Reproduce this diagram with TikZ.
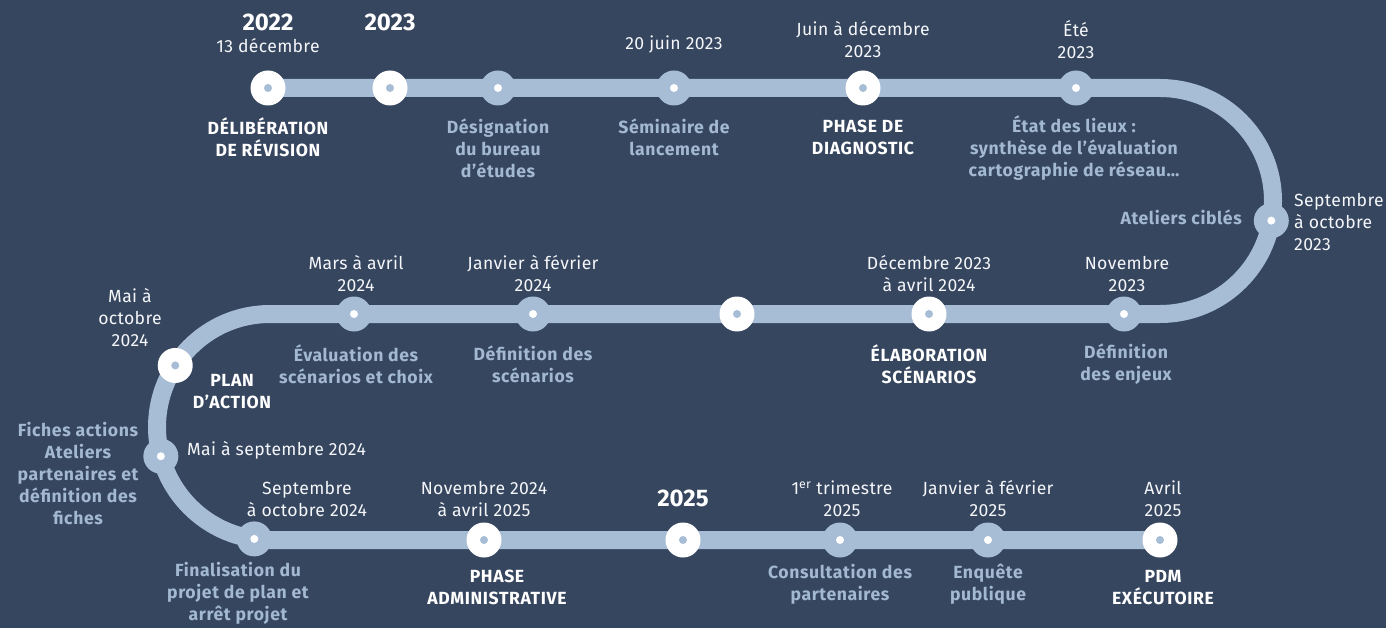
\documentclass[tikz,border=0pt]{standalone}
\usepackage{fontspec}
\setmainfont{Fira Sans}[LetterSpace=2]
\usetikzlibrary{calc}
\definecolor{bg}{HTML}{36465F}
\definecolor{trk}{HTML}{A7BDD6}
\definecolor{lbl}{HTML}{A3B8D1}
\definecolor{wtxt}{HTML}{F4F6F9}
\pgfdeclarelayer{back}
\pgfsetlayers{back,main}
\tikzset{
  mnode/.style={circle,inner sep=0pt,minimum size=35pt},
  major/.style={mnode,fill=white,path picture={\fill[trk] (path picture bounding box.center) circle (4pt);}},
  minor/.style={mnode,fill=trk,path picture={\fill[white] (path picture bounding box.center) circle (4pt);}},
  datelab/.style={text=wtxt,align=center,inner sep=0pt,font=\fontsize{17.6}{22}\selectfont},
  bluelab/.style={text=lbl,align=center,inner sep=0pt,yshift=1.5pt,font=\fontsize{17.6}{22}\selectfont\bfseries\addfontfeatures{LetterSpace=3.5}},
  keylab/.style={text=white,align=center,inner sep=0pt,yshift=1.5pt,font=\fontsize{17.6}{22}\selectfont\bfseries\addfontfeatures{LetterSpace=3.5}},
  yearlab/.style={text=white,inner sep=0pt,font=\fontsize{24}{26}\selectfont\bfseries\addfontfeatures{LetterSpace=0}},
  track/.style={draw=trk,line width=18pt}
}
\begin{document}
\begin{tikzpicture}[x=1pt,y=1pt]
\useasboundingbox (0,0) rectangle (1386,-628);
% milestones
\node[major] (m1) at (268,-88) {};
\node[major] (m2) at (390,-88) {};
\node[minor] (m3) at (498,-88) {};
\node[minor] (m4) at (674,-88) {};
\node[major] (m5) at (863,-88) {};
\node[minor] (m6) at (1076,-88) {};
\node[minor] (m7) at ($(1160,-201)+(-10:113)$) {};
\node[minor] (m8) at (1124,-314) {};
\node[major] (m9) at (929,-314) {};
\node[major] (m10) at (737,-314) {};
\node[minor] (m11) at (533,-314) {};
\node[minor] (m12) at (354,-314) {};
\node[major] (m13) at ($(270,-427)+(147:113)$) {};
\node[minor] (m14) at ($(270,-427)+(195:113)$) {};
\node[minor] (m15) at ($(270,-427)+(262:113)$) {};
\node[major] (m16) at (484,-540) {};
\node[major] (m17) at (683,-540) {};
\node[minor] (m18) at (840,-540) {};
\node[minor] (m19) at (988,-540) {};
\node[major] (m20) at (1160,-540) {};
\coordinate (c1) at (1160,-88);
\coordinate (c2) at (270,-314);
\begin{pgfonlayer}{back}
\fill[bg] (0,0) rectangle (1386,-628);
\draw[track] (m1.center) -- (c1) arc[start angle=90,end angle=-90,radius=113]
  -- (c2) arc[start angle=90,end angle=270,radius=113] -- (m20.center);
\end{pgfonlayer}
% top row texts
\node[yearlab] (y1) at (268,-22) {2022};
\node[datelab] (d1) at (268,-46) {13 décembre};
\node[keylab] (l1) at (268,-139) {DÉLIBÉRATION\\DE RÉVISION};
\node[yearlab] (y2) at (390,-22) {2023};
\node[bluelab] (l3) at (498,-150) {Désignation\\du bureau\\d’études};
\node[datelab] (d4) at (674,-45) {20 juin 2023};
\node[bluelab] (l4) at (674,-139) {Séminaire de\\lancement};
\node[datelab] (d5) at (863,-40) {Juin à décembre\\2023};
\node[keylab] (l5) at (863,-139) {PHASE DE\\DIAGNOSTIC};
\node[datelab] (d6) at (1076,-40) {Été\\2023};
\node[bluelab] (l6) at (1074,-150) {État des lieux :\\synthèse de l’évaluation\\cartographie de réseau…};
% right arc
\node[bluelab,anchor=east] (l7) at (1242,-219) {Ateliers ciblés};
\node[datelab,anchor=west,align=left] (d7) at (1294,-222) {Septembre\\à octobre\\2023};
% middle row
\node[datelab] (d8) at (1127,-274) {Novembre\\2023};
\node[bluelab] (l8) at (1126,-366) {Définition\\des enjeux};
\node[datelab] (d9) at (929,-274) {Décembre 2023\\à avril 2024};
\node[keylab] (l9) at (929,-366) {ÉLABORATION\\SCÉNARIOS};
\node[datelab] (d11) at (533,-274) {Janvier à février\\2024};
\node[bluelab] (l11) at (533,-366) {Définition des\\scénarios};
\node[datelab] (d12) at (356,-274) {Mars à avril\\2024};
\node[bluelab] (l12) at (356,-366) {Évaluation des\\scénarios et choix};
% left arc
\node[datelab] (d13) at (130,-318) {Mai à\\octobre\\2024};
\node[keylab] (l13) at (232,-393) {PLAN\\D’ACTION};
\node[bluelab] (l14) at (78,-475) {Fiches actions\\Ateliers\\partenaires et\\définition des\\fiches};
\node[datelab,anchor=west] (d14) at (187,-450) {Mai à septembre 2024};
% bottom row
\node[datelab] (d15) at (307,-499) {Septembre\\à octobre 2024};
\node[bluelab] (l15) at (238,-595) {Finalisation du\\projet de plan et\\arrêt projet};
\node[datelab] (d16) at (484,-499) {Novembre 2024\\à avril 2025};
\node[keylab] (l16) at (497,-589) {PHASE\\ADMINISTRATIVE};
\node[yearlab] (y17) at (683,-498) {2025};
\node[datelab] (d18) at (842,-499) {1\textsuperscript{er} trimestre\\2025};
\node[bluelab] (l18) at (840,-586) {Consultation des\\partenaires};
\node[datelab] (d19) at (988,-499) {Janvier à février\\2025};
\node[bluelab] (l19) at (988,-586) {Enquête\\publique};
\node[datelab] (d20) at (1163,-499) {Avril\\2025};
\node[keylab] (l20) at (1163,-589) {PDM\\EXÉCUTOIRE};
\end{tikzpicture}
\end{document}
